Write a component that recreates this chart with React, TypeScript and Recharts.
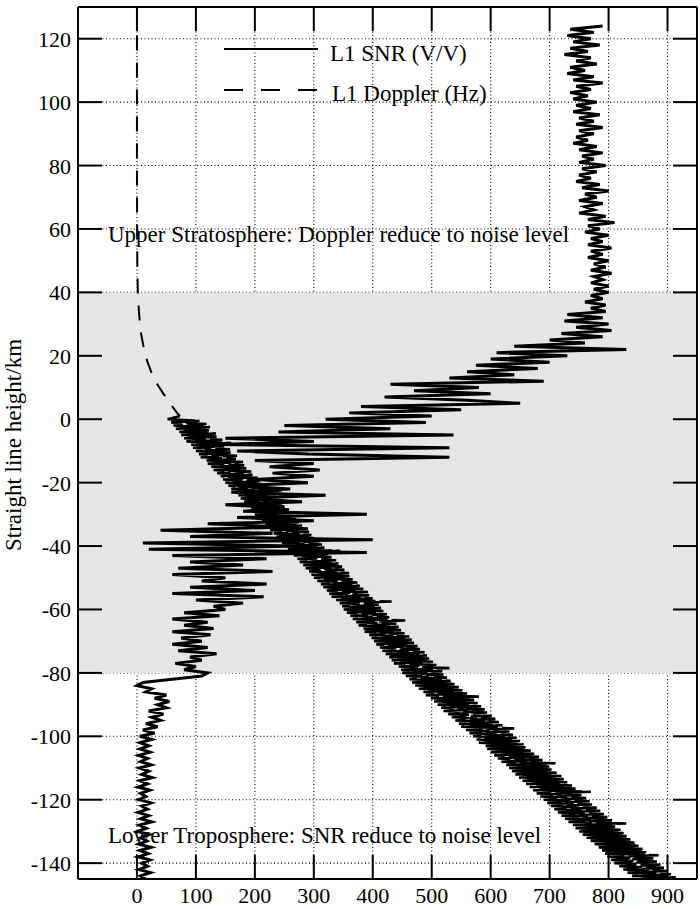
import React from 'react';
import { ComposedChart, Line, XAxis, YAxis, CartesianGrid, ReferenceArea } from 'recharts';

// ---------- axes ----------
const xTicks = [0, 100, 200, 300, 400, 500, 600, 700, 800, 900];
const yTicks = [-140, -120, -100, -80, -60, -40, -20, 0, 20, 40, 60, 80, 100, 120];
const xDomain = [-100, 950];
const yDomain = [-145, 130];

// shaded band (km)
const shadeBottomKm = -80;
const shadeTopKm = 40;

// ---------- L1 SNR (V/V), sampled every 1 km downward from snrTopKm ----------
const snrTopKm = 124;
const snrStepKm = 1;
const snrValues = [
  790, 735, 775, 730, 770, 740, 785, 735, 765, 725, // 124..115
  770, 745, 780, 735, 760, 730, 775, 740, 790, 745, // 114..105
  770, 735, 765, 740, 780, 745, 770, 740, 785, 750, // 104..95
  775, 745, 790, 750, 775, 745, 765, 740, 780, 750, // 94..85
  790, 755, 775, 750, 795, 755, 780, 750, 770, 745, // 84..75
  785, 755, 800, 760, 780, 750, 790, 760, 775, 750, // 74..65
  795, 765, 810, 765, 785, 760, 800, 770, 790, 765, // 64..55
  805, 770, 790, 765, 800, 775, 795, 770, 805, 775, // 54..45
  790, 770, 800, 775, 800, 770, 790, 760, 795, 770, // 44..35
  795, 730, 790, 725, 800, 745, 805, 720, 790, 700, // 34..25
  760, 640, 830, 610, 730, 600, 700, 575, 680, 560, // 24..15
  640, 530, 690, 430, 580, 470, 600, 420, 560, 650, // 14..5
  380, 550, 360, 500, 320, 490, 250, 430, 240, 537, // 4..-5
  150, 300, 140, 530, 170, 290, 530, 200, 300, 225, // -6..-15
  310, 230, 300, 200, 290, 170, 260, 160, 320, 180, // -16..-25
  280, 150, 250, 180, 390, 170, 300, 120, 260, 40, // -26..-35
  230, 90, 400, 10, 270, 20, 390, 60, 220, 90, // -36..-45
  180, 70, 230, 60, 150, 110, 220, 90, 200, 60, // -46..-55
  215, 100, 180, 130, 150, 80, 140, 60, 120, 80, // -56..-65
  130, 60, 125, 75, 110, 60, 120, 70, 135, 90, // -66..-75
  110, 65, 100, 80, 120, 110, 60, 10, 0, 25, // -76..-85
  15, 50, 30, 55, 35, 50, 20, 45, 25, 40, // -86..-95
  15, 35, 10, 30, 5, 25, 5, 20, 5, 22, // -96..-105
  3, 18, 6, 24, 4, 20, 8, 26, 5, 18, // -106..-115
  2, 22, 6, 15, 3, 24, 8, 18, 2, 20, // -116..-125
  6, 25, 4, 16, 1, 21, 7, 17, 3, 24, // -126..-135
  5, 19, 2, 22, 8, 18, 3, 23, 6, 15, // -136..-145
];

// ---------- L1 Doppler (Hz) ----------
// upper smooth part
const dopplerSmoothHeights = [121, 100, 80, 60, 50, 45, 40, 35, 30, 27, 24, 21, 18, 15, 12, 10, 8, 6, 4, 2, 1];
const dopplerSmoothValues = [0, 0, 0, 0.3, 0.6, 1, 1.5, 3, 5, 7, 10, 13, 18, 24, 31, 38, 45, 53, 60, 68, 73];
// lower noisy part, sampled every 0.5 km downward from dopplerNoisyTopKm
const dopplerNoisyTopKm = 0;
const dopplerNoisyStepKm = 0.5;
const dopplerNoisyValues = [
  52, 106, 58, 118, 62, 124, 66, 122, 72, 134, // 0..-4.5
  75, 135, 80, 145, 84, 160, 92, 148, 95, 158, // -5..-9.5
  100, 162, 105, 170, 108, 168, 118, 180, 120, 182, // -10..-14.5
  126, 186, 130, 194, 136, 196, 142, 205, 146, 208, // -15..-19.5
  150, 215, 155, 218, 160, 245, 168, 226, 172, 236, // -20..-24.5
  176, 240, 182, 246, 186, 250, 194, 258, 196, 262, // -25..-29.5
  200, 264, 195, 270, 212, 275, 218, 280, 220, 290, // -30..-34.5
  226, 292, 232, 296, 236, 300, 242, 310, 246, 314, // -35..-39.5
  250, 318, 256, 345, 262, 324, 266, 330, 272, 338, // -40..-44.5
  276, 342, 282, 348, 286, 352, 292, 360, 296, 362, // -45..-49.5
  300, 366, 306, 374, 312, 378, 316, 384, 322, 392, // -50..-54.5
  326, 394, 330, 400, 338, 432, 344, 410, 348, 414, // -55..-59.5
  350, 418, 356, 424, 362, 428, 366, 455, 372, 440, // -60..-64.5
  376, 444, 382, 448, 386, 454, 394, 462, 398, 466, // -65..-69.5
  400, 470, 406, 476, 412, 480, 416, 488, 422, 492, // -70..-74.5
  426, 498, 432, 502, 436, 508, 444, 530, 448, 518, // -75..-79.5
  450, 520, 456, 526, 462, 532, 466, 540, 472, 546, // -80..-84.5
  478, 552, 486, 560, 490, 580, 498, 572, 504, 578, // -85..-89.5
  510, 584, 516, 590, 520, 594, 528, 602, 534, 608, // -90..-94.5
  540, 614, 546, 620, 550, 640, 558, 632, 564, 638, // -95..-99.5
  570, 644, 576, 650, 580, 656, 588, 662, 594, 668, // -100..-104.5
  600, 674, 606, 682, 612, 688, 618, 710, 624, 700, // -105..-109.5
  630, 706, 636, 712, 642, 720, 648, 724, 654, 730, // -110..-114.5
  660, 738, 666, 744, 672, 770, 678, 754, 684, 762, // -115..-119.5
  690, 768, 696, 772, 702, 780, 708, 786, 714, 792, // -120..-124.5
  720, 798, 726, 806, 732, 830, 738, 814, 744, 822, // -125..-129.5
  750, 828, 756, 834, 762, 840, 768, 846, 774, 852, // -130..-134.5
  780, 858, 786, 864, 792, 885, 798, 876, 804, 882, // -135..-139.5
  810, 888, 818, 894, 825, 900, 832, 906, 840, 914, // -140..-144.5
  848, // -145
];

const snrData = snrValues.map((v, i) => ({ h: snrTopKm - i * snrStepKm, v }));
const dopplerUpperData = dopplerSmoothHeights.map((h, i) => ({ h, v: dopplerSmoothValues[i] }));
const dopplerLowerData = [
  { h: dopplerSmoothHeights[dopplerSmoothHeights.length - 1], v: dopplerSmoothValues[dopplerSmoothValues.length - 1] },
  ...dopplerNoisyValues.map((v, i) => ({ h: dopplerNoisyTopKm - i * dopplerNoisyStepKm, v })),
];

const FONT = '"Liberation Serif", "Times New Roman", Times, serif';
const TICK_LEN = 24;
const TICK_FONT = 22;
const TEXT_FONT = 23;
const textStyle = { fontFamily: FONT };

const BottomTick = (p: any) => (
  <g>
    <line x1={p.x} y1={p.y} x2={p.x} y2={p.y - TICK_LEN} stroke="#000" strokeWidth={2} />
    <text x={p.x} y={p.y + 24} textAnchor="middle" fontFamily={FONT} style={textStyle} fontSize={TICK_FONT} fill="#000">
      {p.payload.value}
    </text>
  </g>
);
const TopTick = (p: any) => (
  <line x1={p.x} y1={p.y} x2={p.x} y2={p.y + TICK_LEN} stroke="#000" strokeWidth={2} />
);
const LeftTick = (p: any) => (
  <g>
    <line x1={p.x} y1={p.y} x2={p.x + TICK_LEN} y2={p.y} stroke="#000" strokeWidth={2} />
    <text x={p.x - 7} y={p.y + 8} textAnchor="end" fontFamily={FONT} style={textStyle} fontSize={TICK_FONT} fill="#000">
      {p.payload.value}
    </text>
  </g>
);
const RightTick = (p: any) => (
  <line x1={p.x} y1={p.y} x2={p.x - TICK_LEN} y2={p.y} stroke="#000" strokeWidth={2} />
);

export default function App() {
  return (
    <div style={{ position: 'absolute', left: 0, top: 0, width: 700, height: 909, background: '#fff', fontFamily: FONT }}>
      <ComposedChart
        width={700}
        height={909}
        layout="vertical"
        margin={{ top: 6, right: 2, bottom: 29, left: 77 }}
        style={{ fontFamily: FONT }}
      >
        <ReferenceArea
          xAxisId="b"
          yAxisId="l"
          y1={shadeBottomKm}
          y2={shadeTopKm}
          fill="#e5e5e5"
          fillOpacity={1}
          stroke="none"
          ifOverflow="hidden"
        />
        <CartesianGrid xAxisId="b" yAxisId="l" stroke="#000" strokeDasharray="1 2.5" strokeWidth={1.1} />
        <XAxis
          xAxisId="b"
          type="number"
          dataKey="v"
          orientation="bottom"
          domain={xDomain}
          ticks={xTicks}
          allowDataOverflow
          height={1}
          tickSize={0}
          tickMargin={0}
          tick={<BottomTick />}
          tickLine={false}
          axisLine={{ stroke: '#000', strokeWidth: 2 }}
          interval={0}
        />
        <XAxis
          xAxisId="t"
          type="number"
          orientation="top"
          domain={xDomain}
          ticks={xTicks}
          allowDataOverflow
          height={1}
          tickSize={0}
          tickMargin={0}
          tick={<TopTick />}
          tickLine={false}
          axisLine={{ stroke: '#000', strokeWidth: 2 }}
          interval={0}
        />
        <YAxis
          yAxisId="l"
          type="number"
          dataKey="h"
          orientation="left"
          domain={yDomain}
          ticks={yTicks}
          allowDataOverflow
          reversed
          width={1}
          tickSize={0}
          tickMargin={0}
          tick={<LeftTick />}
          tickLine={false}
          axisLine={{ stroke: '#000', strokeWidth: 2 }}
          interval={0}
        />
        <YAxis
          yAxisId="r"
          type="number"
          dataKey="h"
          orientation="right"
          domain={yDomain}
          ticks={yTicks}
          allowDataOverflow
          reversed
          width={1}
          tickSize={0}
          tickMargin={0}
          tick={<RightTick />}
          tickLine={false}
          axisLine={{ stroke: '#000', strokeWidth: 2 }}
          interval={0}
        />
        <Line
          xAxisId="b"
          yAxisId="l"
          data={dopplerUpperData}
          dataKey="v"
          type="linear"
          stroke="#000"
          strokeWidth={2}
          strokeDasharray="15 12"
          dot={false}
          isAnimationActive={false}
        />
        <Line
          xAxisId="b"
          yAxisId="l"
          data={dopplerLowerData}
          dataKey="v"
          type="linear"
          stroke="#000"
          strokeWidth={2.6}
          strokeDasharray="40 4"
          dot={false}
          isAnimationActive={false}
        />
        <Line
          xAxisId="b"
          yAxisId="l"
          data={snrData}
          dataKey="v"
          type="linear"
          stroke="#000"
          strokeWidth={3}
          dot={false}
          isAnimationActive={false}
        />
      </ComposedChart>
      <svg width={700} height={909} style={{ position: 'absolute', left: 0, top: 0, pointerEvents: 'none' }}>
        <g style={textStyle} fontSize={TEXT_FONT} fill="#000">
          <line x1={224} y1={49} x2={318} y2={49} stroke="#000" strokeWidth={2} />
          <text x={330} y={61}>L1 SNR (V/V)</text>
          <line x1={224} y1={90} x2={318} y2={90} stroke="#000" strokeWidth={2} strokeDasharray="19 18" />
          <text x={332} y={101}>L1 Doppler (Hz)</text>
          <text x={108} y={242}>Upper Stratosphere: Doppler reduce to noise level</text>
          <text x={108} y={843}>Lower Troposphere: SNR reduce to noise level</text>
          <text transform="translate(21,445) rotate(-90)" textAnchor="middle">Straight line height/km</text>
        </g>
      </svg>
    </div>
  );
}
